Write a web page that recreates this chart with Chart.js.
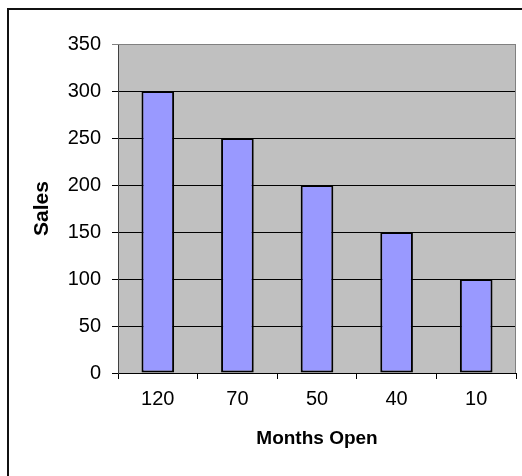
<!DOCTYPE html>
<html>
<head>
<meta charset="utf-8">
<script src="https://cdn.jsdelivr.net/npm/chart.js@4/dist/chart.umd.min.js"></script>
<style>
  html, body { margin: 0; padding: 0; background: #fff; }
  canvas { display: block; }
</style>
</head>
<body>
<canvas id="salesChart" width="522" height="476"></canvas>
<script>
// data
const monthsOpen = ['120', '70', '50', '40', '10'];
const salesValues = [300, 250, 200, 150, 100];
const yTickMin = 0;
const yTickMax = 350;
const yTickStep = 50;

const fontFamily = '"Liberation Sans", Arial, sans-serif';

// plot area background + frame around the whole chart
const backdropPlugin = {
    id: 'backdrop',
    beforeDraw(chart) {
        const { ctx, chartArea: a } = chart;
        ctx.save();
        ctx.fillStyle = '#C0C0C0';
        ctx.fillRect(a.left, a.top, a.right - a.left, a.bottom - a.top);
        // outer frame (only top and left visible in picture)
        ctx.strokeStyle = '#111';
        ctx.lineWidth = 2;
        ctx.beginPath();
        ctx.moveTo(8, chart.height);
        ctx.lineTo(8, 9);
        ctx.lineTo(chart.width, 9);
        ctx.stroke();
        ctx.restore();
    },
    beforeDatasetsDraw(chart) {
        const { ctx, chartArea: a } = chart;
        ctx.save();
        ctx.strokeStyle = '#808080';
        ctx.lineWidth = 1;
        ctx.beginPath();
        ctx.moveTo(a.left, a.top + 0.5);
        ctx.lineTo(a.right - 0.5, a.top + 0.5);
        ctx.lineTo(a.right - 0.5, a.bottom);
        ctx.stroke();
        ctx.restore();
    }
};

const ctx = document.getElementById('salesChart').getContext('2d');
const salesChart = new Chart(ctx, {
    type: 'bar',
    data: {
        labels: monthsOpen,
        datasets: [{
            data: salesValues,
            backgroundColor: '#9999FF',
            borderColor: '#000',
            borderWidth: 2,
            borderSkipped: false,
            inflateAmount: 0,
            barPercentage: 0.41,
            categoryPercentage: 1.0
        }]
    },
    options: {
        responsive: false,
        animation: false,
        layout: { padding: { left: 0, top: 44, right: 6, bottom: 0 } },
        plugins: {
            legend: { display: false },
            tooltip: { enabled: false }
        },
        scales: {
            x: {
                afterFit: (scale) => { scale.height = 103; },
                grid: {
                    drawOnChartArea: false,
                    drawTicks: true,
                    tickLength: 6,
                    color: '#000',
                    offset: true
                },
                border: { color: '#000', width: 1 },
                ticks: {
                    color: '#000',
                    padding: 8,
                    font: { family: fontFamily, size: 20 }
                },
                title: {
                    display: true,
                    text: 'Months Open',
                    color: '#000',
                    padding: { top: 0, bottom: 26 },
                    font: { family: fontFamily, size: 19, weight: 'bold' }
                }
            },
            y: {
                min: yTickMin,
                max: yTickMax,
                afterFit: (scale) => { scale.width = 118; },
                grid: {
                    drawTicks: true,
                    tickLength: 6,
                    color: (c) => (c.tick && c.tick.value === yTickMax) ? '#808080' : '#000'
                },
                border: { color: '#404040', width: 1 },
                ticks: {
                    stepSize: yTickStep,
                    color: '#000',
                    padding: 11,
                    font: { family: fontFamily, size: 20 }
                },
                title: {
                    display: true,
                    text: 'Sales',
                    color: '#000',
                    padding: { top: 30, bottom: 0 },
                    font: { family: fontFamily, size: 21, weight: 'bold' }
                }
            }
        }
    },
    plugins: [backdropPlugin]
});
</script>
</body>
</html>
